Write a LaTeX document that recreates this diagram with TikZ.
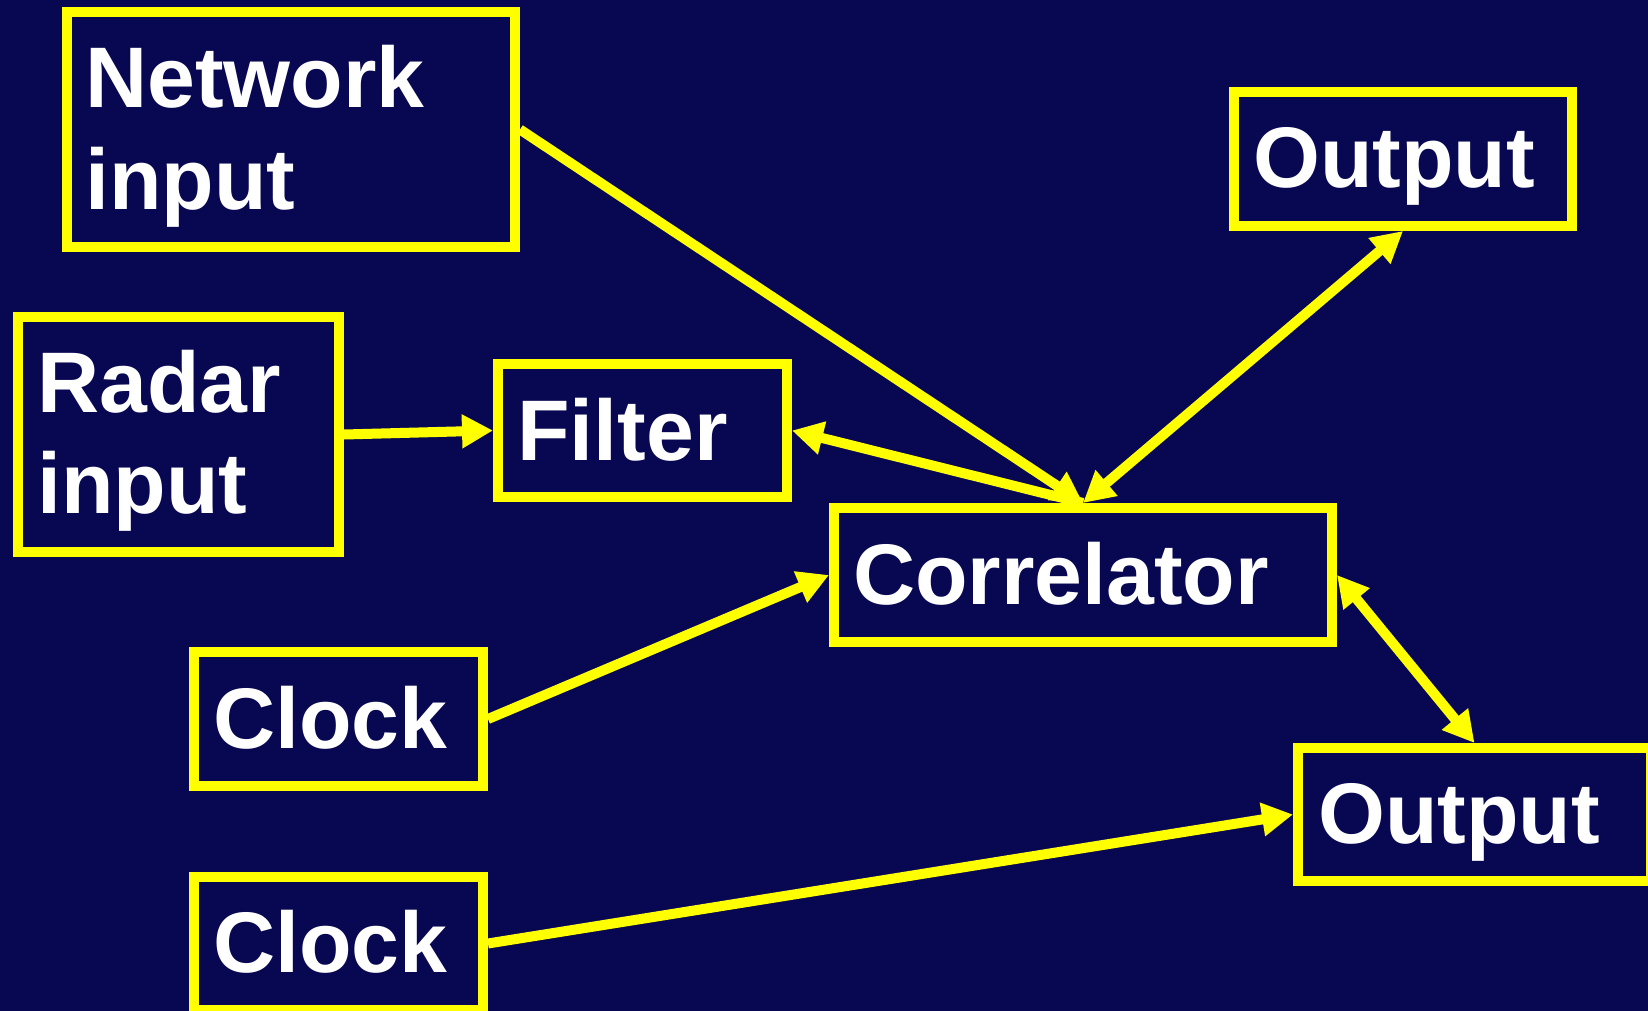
\documentclass[tikz,border=0pt]{standalone}
\usepackage{fontspec}
\setmainfont{Liberation Sans}
\usetikzlibrary{arrows.meta}
\definecolor{navybg}{RGB}{8,8,82}
\definecolor{yel}{RGB}{255,255,0}
\begin{document}
\begin{tikzpicture}[x=1pt,y=-1pt,
  box/.style={draw=yel, line width=10pt, inner sep=0pt, outer sep=5pt, line join=miter},
  txt/.style={text=white, font=\bfseries\fontsize{86}{101}\selectfont, anchor=base west, inner sep=0pt, align=left},
  tip/.tip={Triangle[length=31pt,width=32pt]},
  arr/.style={draw=yel, line width=10pt, -tip},
  darr/.style={draw=yel, line width=10pt, tip-tip}]
\fill[navybg] (0,0) rectangle (1648,1011);
\useasboundingbox (0,0) rectangle (1648,1011);
\clip (0,0) rectangle (1648,1011);
% boxes
\node[box, minimum width=448pt, minimum height=235pt] (net) at (291,129.5) {};
\node[box, minimum width=321pt, minimum height=235pt] (rad) at (178.5,434.5) {};
\node[box, minimum width=289pt, minimum height=133pt] (fil) at (642.5,430.5) {};
\node[box, minimum width=498pt, minimum height=134pt] (cor) at (1083,575) {};
\node[box, minimum width=338pt, minimum height=134pt] (out1) at (1403,159) {};
\node[box, minimum width=289pt, minimum height=134pt] (clk1) at (338.5,719) {};
\node[box, minimum width=289pt, minimum height=133pt] (clk2) at (338.5,943.5) {};
\node[box, minimum width=353pt, minimum height=133pt] (out2) at (1474.5,814.5) {};
% texts (two-line texts are anchored at the baseline of their last line)
\node[txt] (net-t) at (85,209) {Network\\input};
\node[txt] (rad-t) at (37,513) {Radar\\input};
\node[txt] (fil-t) at (517,460) {Filter};
\node[txt] (cor-t) at (853,604) {Correlator};
\node[txt] (out1-t) at (1253,188) {Output};
\node[txt] (clk1-t) at (213,748) {Clock};
\node[txt] (clk2-t) at (213,972) {Clock};
\node[txt] (out2-t) at (1318,843) {Output};
% connectors
\draw[arr] (net.east) -- (cor.north);
\draw[arr] (cor.north) -- (fil.east);
\draw[darr] (cor.north) -- (out1.south);
\draw[arr] (rad.east) -- (fil.west);
\draw[arr] (clk1.east) -- (cor.west);
\draw[arr] (clk2.east) -- (out2.west);
\draw[darr] (cor.east) -- (out2.north);
\end{tikzpicture}
\end{document}
